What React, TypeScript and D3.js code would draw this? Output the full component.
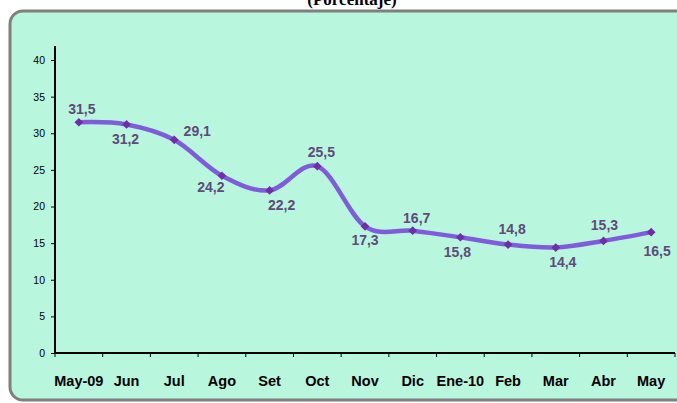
import * as d3 from "d3";
import React, { useRef, useEffect } from "react";

const months = ["May-09", "Jun", "Jul", "Ago", "Set", "Oct", "Nov", "Dic", "Ene-10", "Feb", "Mar", "Abr", "May"];
const rates = [31.5, 31.2, 29.1, 24.2, 22.2, 25.5, 17.3, 16.7, 15.8, 14.8, 14.4, 15.3, 16.5];
const yTicks = [0, 5, 10, 15, 20, 25, 30, 35, 40];
// label offset relative to point (dx, dy to baseline)
const labelOffsets = [
	[3, -8], [-1, 20], [23, -4], [-11, 16], [12, 20], [4, -9], [0, 19],
	[4, -8], [-3, 20], [4, -11], [7, 19], [1, -11], [6, 24],
];

const WIDTH = 677;
const HEIGHT = 403;

const App = () => {
	const svgRef = useRef(null);

	useEffect(() => {
		const svg = d3.select(svgRef.current);
		svg.selectAll("*").remove();

		const left = 55;
		const right = 675;
		const bottom = 353;

		const x = d3.scaleBand().domain(months).range([left, right]);
		const y = d3.scaleLinear().domain([0, 40]).range([bottom, 60]);

		// frame
		svg.append("rect").attr("x", 10).attr("y", 11).attr("width", 690).attr("height", 389)
			.attr("rx", 13).attr("fill", "#b8f6de").attr("stroke", "#7f7f7f").attr("stroke-width", 3);

		svg.append("text").attr("x", 352).attr("y", 5).attr("text-anchor", "middle")
			.attr("font-family", "Liberation Serif, serif").attr("font-weight", "bold").attr("font-size", 17)
			.text("(Porcentaje)");

		// y axis
		const yAxis = svg.append("g").attr("transform", `translate(${left},0)`)
			.call(d3.axisLeft(y).tickValues(yTicks).tickSize(4).tickPadding(6));
		yAxis.select(".domain").remove();
		yAxis.selectAll("line").attr("stroke", "#000").attr("stroke-width", 1);
		yAxis.selectAll("text").attr("font-family", "Liberation Sans, Arial, sans-serif").attr("font-size", 10.5).attr("fill", "#000");
		svg.append("line").attr("x1", left).attr("x2", left).attr("y1", 46).attr("y2", bottom + 1)
			.attr("stroke", "#000").attr("stroke-width", 2);

		// x axis
		const xg = svg.append("g");
		const bounds = months.map((m) => x(m)).concat([right]);
		xg.selectAll("line.tick").data(bounds).join("line")
			.attr("x1", (d) => d).attr("x2", (d) => d).attr("y1", bottom).attr("y2", bottom + 4)
			.attr("stroke", "#000").attr("stroke-width", 1);
		xg.append("line").attr("x1", left).attr("x2", right).attr("y1", bottom).attr("y2", bottom)
			.attr("stroke", "#000").attr("stroke-width", 2);
		xg.selectAll("text").data(months).join("text")
			.attr("x", (d) => x(d) + x.bandwidth() / 2).attr("y", 386).attr("text-anchor", "middle")
			.attr("font-family", "Liberation Sans, Arial, sans-serif").attr("font-weight", "bold").attr("font-size", 14.5)
			.attr("fill", "#000").text((d) => d);

		const pts = months.map((m, i) => [x(m) + x.bandwidth() / 2, y(rates[i])]);

		const line = d3.line().curve(d3.curveCardinal.tension(0));
		svg.append("path").attr("d", line(pts)).attr("fill", "none").attr("stroke", "#7f5cd9")
			.attr("stroke-width", 4.5).attr("stroke-linecap", "round");

		const diamond = d3.symbol().type(d3.symbolSquare).size(38);
		svg.selectAll("path.mk").data(pts).join("path").attr("class", "mk")
			.attr("transform", (d) => `translate(${d[0]},${d[1]}) rotate(45)`).attr("d", diamond)
			.attr("fill", "#6f2da8");

		svg.selectAll("text.lbl").data(pts).join("text").attr("class", "lbl")
			.attr("x", (d, i) => d[0] + labelOffsets[i][0]).attr("y", (d, i) => d[1] + labelOffsets[i][1])
			.attr("text-anchor", "middle").attr("font-family", "Liberation Sans, Arial, sans-serif")
			.attr("font-weight", "bold").attr("font-size", 14).attr("fill", "#5f4a7a")
			.text((d, i) => String(rates[i]).replace(".", ","));
	}, []);

	return (
		<svg ref={svgRef} width={WIDTH} height={HEIGHT} viewBox={`0 0 ${WIDTH} ${HEIGHT}`}
			style={{ position: "absolute", left: 0, top: 0 }} />
	);
};

export default App;
